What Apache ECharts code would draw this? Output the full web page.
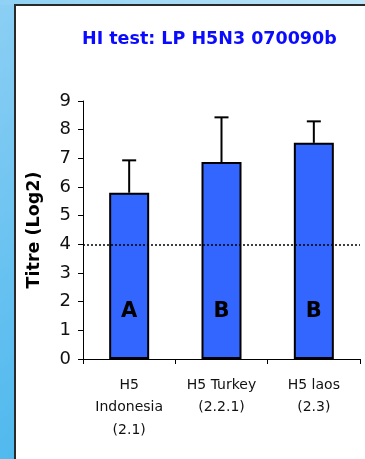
<!DOCTYPE html>
<html>
<head>
<meta charset="utf-8">
<style>
  html, body { margin: 0; padding: 0; }
  #chart { width: 365px; height: 459px; }
</style>
<script src="https://cdn.jsdelivr.net/npm/echarts@6/dist/echarts.min.js"></script>
</head>
<body>
<div id="chart"></div>
<script>
// HI titres (log2) against three H5 antigens
const categories = ['H5\nIndonesia\n(2.1)', 'H5 Turkey\n(2.2.1)', 'H5 laos\n(2.3)'];
const meanTitre = [5.8, 6.87, 7.54];
const upperTitre = [6.93, 8.43, 8.29];
const groupLetters = ['A', 'B', 'B'];
const cutoff = 4;
const yTicks = [0, 1, 2, 3, 4, 5, 6, 7, 8, 9];

const FONT = '"DejaVu Sans", sans-serif';
const chart = echarts.init(document.getElementById('chart'), null, { renderer: 'canvas' });

chart.setOption({
  animation: false,
  graphic: [
    {
      type: 'rect', z: -10, silent: true,
      shape: { x: 0, y: 0, width: 365, height: 459 },
      style: {
        fill: new echarts.graphic.LinearGradient(0, 0, 1, 1, [
          { offset: 0, color: '#8ccff4' },
          { offset: 0.5, color: '#5bbdef' },
          { offset: 1, color: '#2eaee9' }
        ])
      }
    },
    {
      type: 'rect', z: -10, silent: true,
      shape: { x: 0, y: 0, width: 365, height: 5 },
      style: {
        fill: new echarts.graphic.LinearGradient(0, 0, 1, 0, [
          { offset: 0, color: '#8fd1f4' },
          { offset: 1, color: '#bfe6f9' }
        ])
      }
    },
    {
      type: 'rect', z: -9, silent: true,
      shape: { x: 15, y: 5, width: 360, height: 470 },
      style: { fill: '#ffffff', stroke: '#2a2a2a', lineWidth: 2 }
    }
  ],
  title: {
    text: 'HI test: LP H5N3 070090b',
    left: 77,
    top: 25,
    textStyle: { color: '#0a0aff', fontFamily: FONT, fontWeight: 'bold', fontSize: 17.5 }
  },
  grid: { left: 83, right: 5, top: 101, bottom: 100, containLabel: false },
  xAxis: {
    type: 'category',
    data: categories,
    boundaryGap: true,
    axisLine: { lineStyle: { color: '#000', width: 1 } },
    axisTick: { show: true, length: 5, lineStyle: { color: '#000' } },
    axisLabel: { color: '#111', fontFamily: FONT, fontSize: 14, lineHeight: 22.5, margin: 15 }
  },
  yAxis: {
    type: 'value',
    min: 0, max: 9, interval: 1,
    name: 'Titre (Log2)',
    nameLocation: 'middle',
    nameGap: 40,
    nameTextStyle: { color: '#000', fontFamily: FONT, fontWeight: 'bold', fontSize: 17.5 },
    axisLine: { show: true, lineStyle: { color: '#000', width: 1 } },
    axisTick: { show: true, length: 5, lineStyle: { color: '#000' } },
    splitLine: { show: false },
    axisLabel: {
      color: '#111', fontFamily: FONT, fontSize: 18, margin: 12,
      formatter: v => (yTicks.includes(v) ? String(v) : '')
    }
  },
  series: [
    {
      type: 'bar',
      data: meanTitre,
      barWidth: 40,
      itemStyle: { color: '#3366ff', borderColor: '#000', borderWidth: 2 },
      label: {
        show: true,
        position: 'insideBottom',
        distance: 37,
        formatter: p => groupLetters[p.dataIndex],
        color: '#000',
        fontFamily: '"Comic Sans MS", "DejaVu Sans", sans-serif',
        fontWeight: 'bold',
        fontSize: 21
      },
      markLine: {
        silent: true,
        symbol: 'none',
        label: { show: false },
        lineStyle: { color: '#000', type: [2, 2], width: 1.5 },
        data: [{ yAxis: cutoff }]
      },
      z: 2
    },
    {
      type: 'custom',
      z: 3,
      data: meanTitre.map((m, i) => [i, m, upperTitre[i]]),
      renderItem: (params, api) => {
        const base = api.coord([api.value(0), api.value(1)]);
        const top = api.coord([api.value(0), api.value(2)]);
        const half = 7;
        const st = { stroke: '#000', lineWidth: 2 };
        return {
          type: 'group',
          children: [
            { type: 'line', shape: { x1: base[0], y1: base[1], x2: top[0], y2: top[1] }, style: st },
            { type: 'line', shape: { x1: top[0] - half, y1: top[1], x2: top[0] + half, y2: top[1] }, style: st }
          ]
        };
      }
    }
  ]
});
</script>
</body>
</html>
